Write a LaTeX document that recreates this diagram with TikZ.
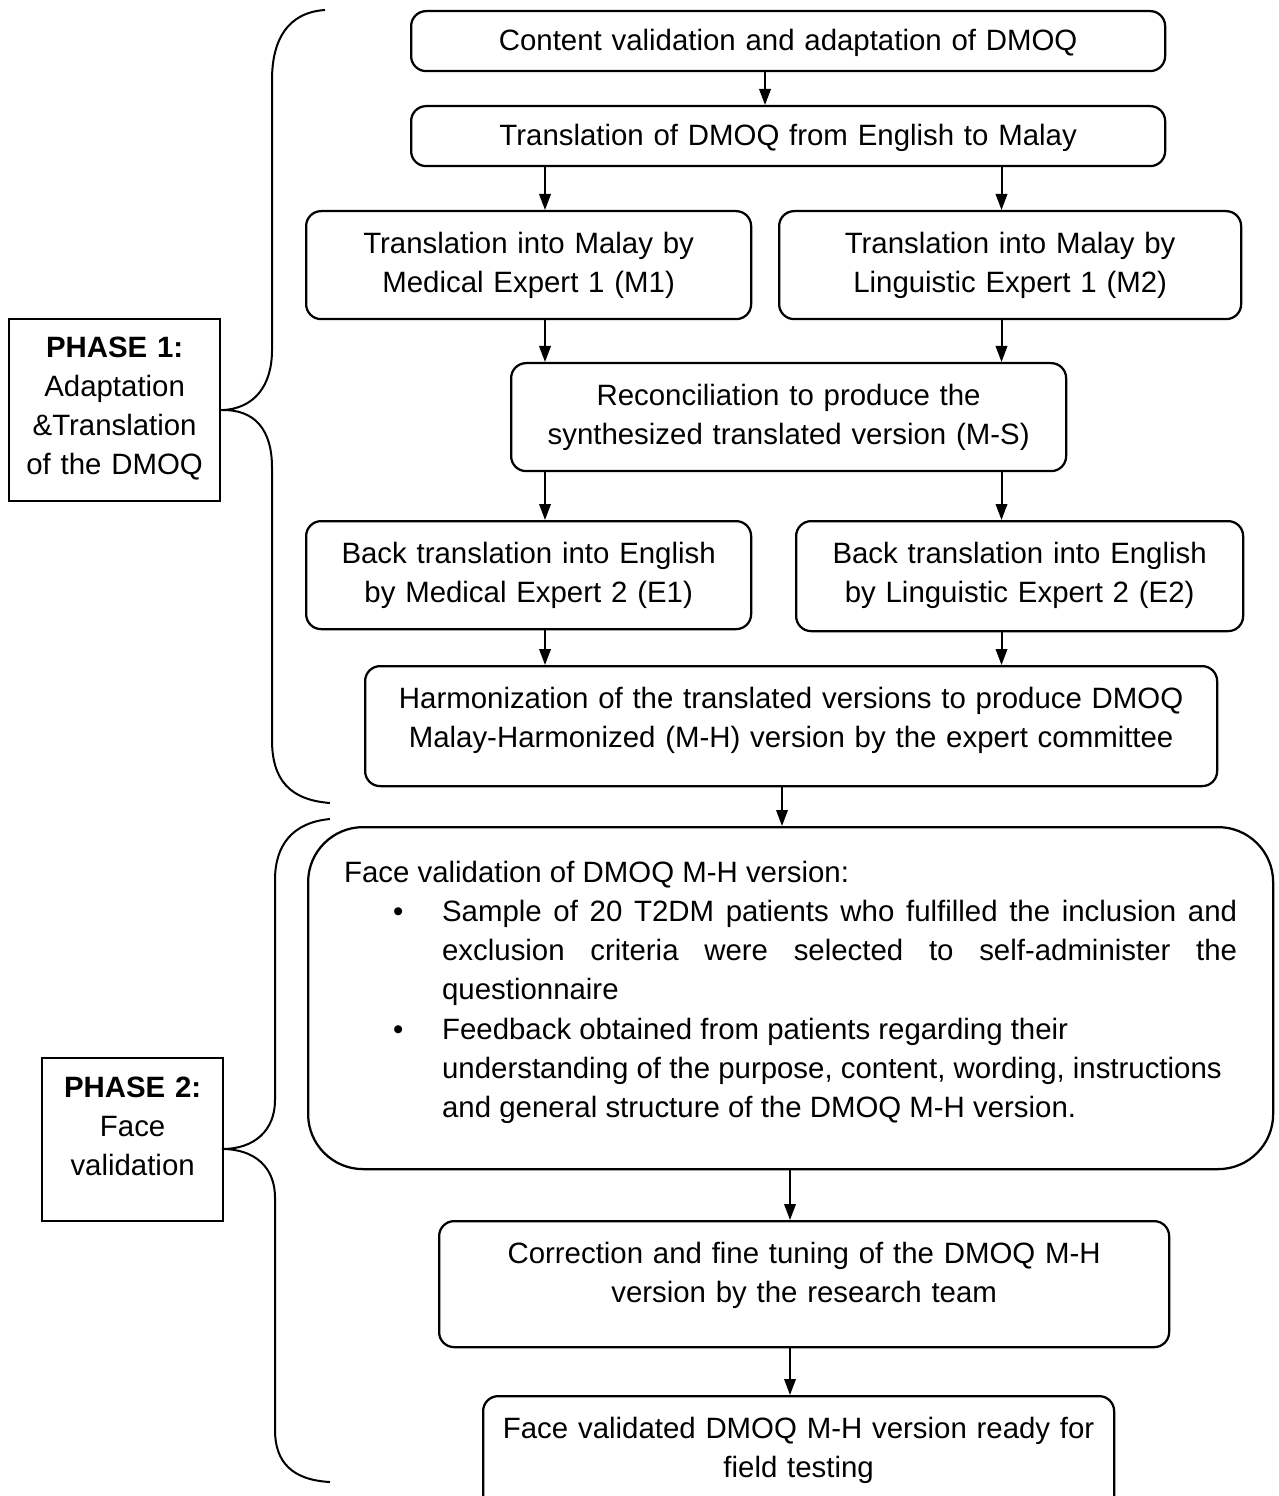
\documentclass[tikz,border=0pt]{standalone}
\usepackage{fontspec}
\setmainfont{Liberation Sans}
\usepackage{tikz}
\usetikzlibrary{arrows.meta,shapes}
\tikzstyle{stage}=[draw, line width=0.9pt
,rounded corners=6pt
,anchor=north west
,inner xsep=0pt, inner ysep=0pt
,align=center
,text height=16.8pt
]
\tikzstyle{wide stage} = [stage, rounded corners=22pt, inner xsep=14.4pt, align=justify, text height=22pt]
\tikzstyle{phase} = [stage, rounded corners=0pt, text height=15.2pt]
\tikzstyle{arrow} = [draw, line width=0.8pt, -{Triangle[length=6.4pt,width=4.6pt]}]
\tikzstyle{brace} = [draw, line width=0.8pt]
% bullet paragraph inside the face validation box
\newcommand{\bitem}[1]{\par{\leftskip=39.2pt\noindent\llap{\makebox[19.6pt][l]{\textbullet}}#1\par}}

\begin{document}
\begin{tikzpicture}[x=1pt,y=-1pt,font=\fontsize{11.76}{15.7}\selectfont]
    \useasboundingbox (0,0) rectangle (511.2,598.4);
    % First we draw the stages of phase 1
    \node[stage, text width=301.6pt, text height=15.6pt, text depth=8.4pt] (A) at (164,4) {Content validation and adaptation of DMOQ};
    \node[stage, text width=301.6pt, text height=15.6pt, text depth=8.4pt] (B) at (164,42) {Translation of DMOQ from English to Malay};
    \node[stage, text width=178pt, text depth=26.4pt] (C1) at (122,84) {Translation into Malay by\\Medical Expert 1 (M1)};
    \node[stage, text width=184.8pt, text depth=26.4pt] (C2) at (311.2,84) {Translation into Malay by\\Linguistic Expert 1 (M2)};
    \node[stage, text width=222pt, text depth=26.4pt] (D) at (204,144.8) {Reconciliation to produce the\\synthesized translated version (M-S)};
    \node[stage, text width=178pt, text depth=26.4pt] (E1) at (122,208) {Back translation into English\\by Medical Expert 2 (E1)};
    \node[stage, text width=178.8pt, text depth=27.2pt] (E2) at (318,208) {Back translation into English\\by Linguistic Expert 2 (E2)};
    \node[stage, text width=340.8pt, text depth=31.2pt] (F) at (145.6,266) {Harmonization of the translated versions to produce DMOQ\\Malay-Harmonized (M-H) version by the expert committee};

    % Then the stages of phase 2
    \node[wide stage, text width=357.2pt, text depth=114.8pt] (G) at (122.8,330.4) {%
        Face validation of DMOQ M-H version:
        \bitem{Sample of 20 T2DM patients who fulfilled the inclusion and\linebreak exclusion criteria were selected to self-administer the\linebreak questionnaire}
        \bitem{Feedback obtained from patients regarding their\newline understanding of the purpose, content, wording, instructions\newline and general structure of the DMOQ M-H version.}};
    \node[stage, text width=292pt, text depth=33.6pt] (H) at (175.2,488) {Correction and fine tuning of the DMOQ M-H\\version by the research team};
    \node[stage, text width=252.4pt, text depth=33.6pt] (I) at (192.8,558) {Face validated DMOQ M-H version ready for\\field testing};

    % Phase labels
    \node[phase, text width=84.4pt, text depth=57.6pt] (P1) at (3.2,127.2) {\textbf{PHASE 1:}\\Adaptation\\\&Translation\\of the DMOQ};
    \node[phase, text width=72.4pt, text height=15.6pt, text depth=49.6pt] (P2) at (16.4,422.8) {\textbf{PHASE 2:}\\Face\\validation};

    % Columns of the arrows
    \foreach \x/\name in {306/m1, 218/mL, 400.6/mR, 312.8/m2, 316/m3}
        \coordinate (\name) at (\x,0);

    % Connect stages with arrows
    \foreach \source/\dest/\col in {A/B/m1, B/C1/mL, B/C2/mR, C1/D/mL, C2/D/mR, D/E1/mL, D/E2/mR, E1/F/mL, E2/F/mR, F/G/m2, G/H/m3, H/I/m3}
        \path[arrow] (\source.south -| \col) -- (\dest.north -| \col);

    % Braces from the phase labels
    \path[brace] (130,4) .. controls (115,5) and (108.8,16) .. (108.8,32) -- (108.8,140)
        .. controls (108.8,154) and (102,163.6) .. (P1.east)
        .. controls (102,163.6) and (108.8,172) .. (108.8,187) -- (108.8,296)
        .. controls (108.8,312) and (116,320) .. (132,321.2);
    \path[brace] (132,327.6) .. controls (117,329) and (110,338) .. (110,352) -- (110,440)
        .. controls (110,452) and (102,459.6) .. (88.8,459.6)
        .. controls (102,459.6) and (110,467) .. (110,479) -- (110,572)
        .. controls (110,585) and (117,592) .. (132,592.8);
\end{tikzpicture}
\end{document}
